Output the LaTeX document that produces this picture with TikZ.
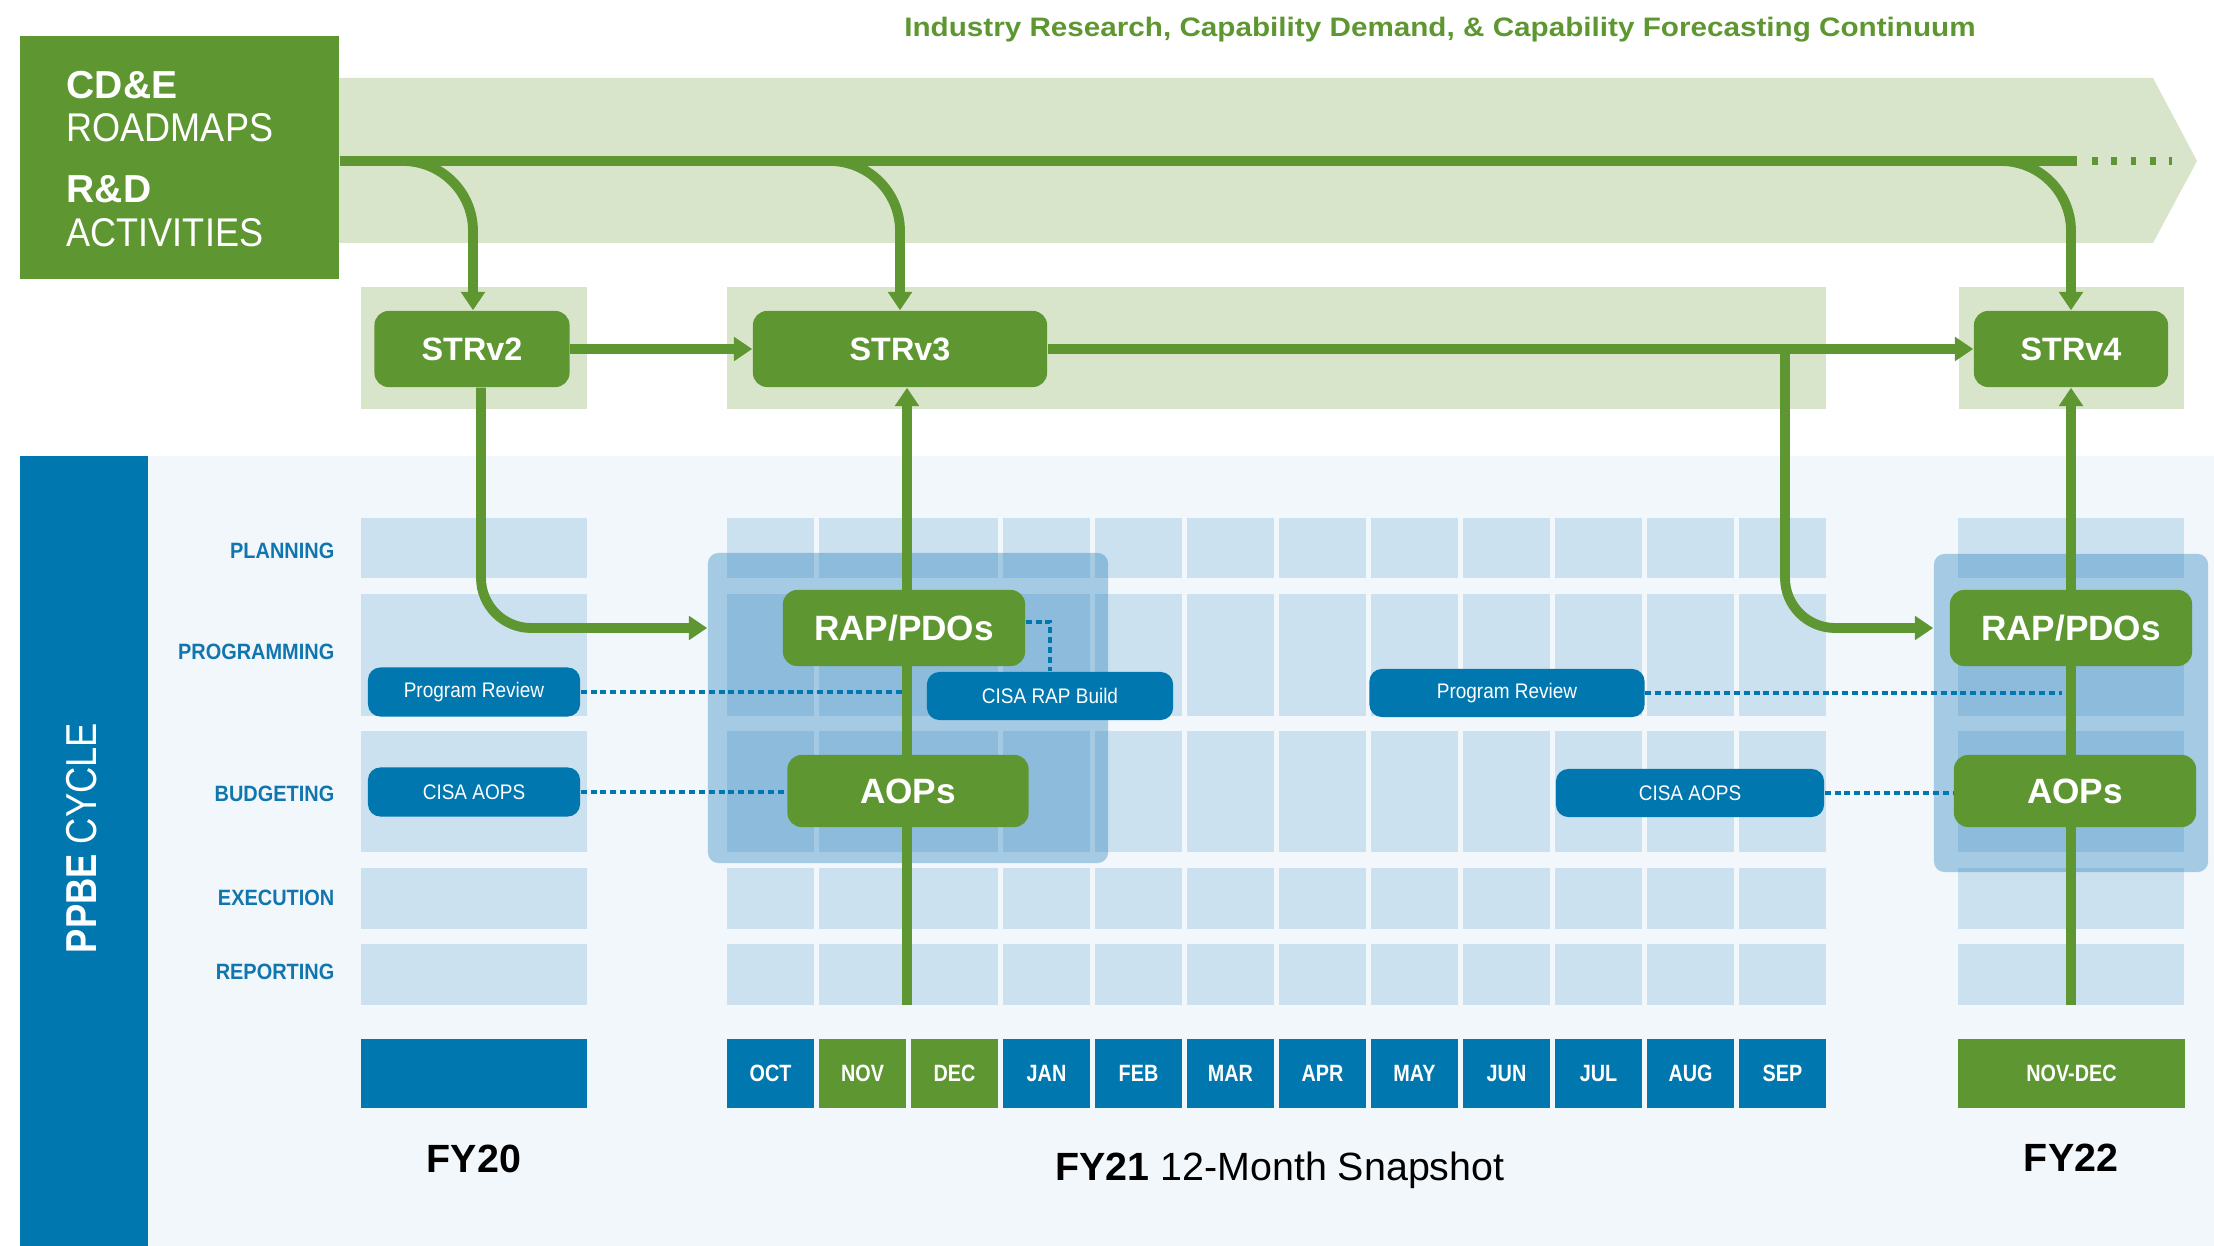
\documentclass[tikz,border=0pt]{standalone}
\usepackage{fontspec}
\setmainfont{Liberation Sans}
\newfontfamily\nine[FakeStretch=0.9]{Liberation Sans}
\newfontfamily\eight[FakeStretch=0.84]{Liberation Sans}
\newfontfamily\wide[FakeStretch=1.11]{Liberation Sans}
\usetikzlibrary{arrows.meta}
\definecolor{grn}{HTML}{5E9732}
\definecolor{lgrn}{HTML}{D9E5CB}
\definecolor{blu}{HTML}{0077AE}
\definecolor{bgb}{HTML}{F2F7FB}
\definecolor{cellc}{HTML}{CCE1EF}
\definecolor{ovc}{HTML}{056CB2}
\definecolor{lblc}{HTML}{1176AF}
\newcommand\fsz[1]{\fontsize{#1}{#1}\selectfont}
\tikzset{
  gline/.style={draw=grn, line width=2.8pt},
  garrow/.style={gline, -{Triangle[width=6.6pt,length=5.2pt]}},
  gbox/.style={fill=grn, rounded corners=4pt, text=white, inner sep=0pt, font=\fsz{10}\bfseries},
  bbox/.style={fill=blu, rounded corners=3.5pt, text=white, inner sep=0pt, font=\nine\fsz{6}},
  dotl/.style={draw=blu, line width=1.1pt, dash pattern=on 1.7pt off 1.1pt},
  cellbox/.style={fill=cellc},
  ovbox/.style={fill=ovc, fill opacity=0.32, rounded corners=3pt, inner sep=0pt},
  rowlbl/.style={anchor=east, text=lblc, inner sep=0pt, font=\nine\fsz{6.3}\bfseries},
  month/.style={text=white, inner sep=0pt, minimum width=0.87cm, minimum height=0.69cm, font=\eight\fsz{6.7}\bfseries},
}
\begin{document}
\begin{tikzpicture}[x=0.01cm,y=-0.01cm]
\useasboundingbox (0,0) rectangle (2214,1246);
% title
\node[anchor=base, text=grn, inner sep=0pt, font=\wide\fsz{7.6}\bfseries] (title) at (1440,37)
  {Industry Research, Capability Demand, \& Capability Forecasting Continuum};
% continuum band
\fill[lgrn] (339,78) -- (2153,78) -- (2197,161) -- (2153,243) -- (339,243) -- cycle;
% CD&E box
\node[fill=grn, inner sep=0pt, minimum width=3.19cm, minimum height=2.43cm] (cde) at (179.5,157.5) {};
\node[anchor=base west, text=white, inner sep=0pt, font=\fsz{11.1}\bfseries] (t1) at (66,99) {CD\&E};
\node[anchor=base west, text=white, inner sep=0pt, font=\nine\fsz{11.4}] (t2) at (66,142) {ROADMAPS};
\node[anchor=base west, text=white, inner sep=0pt, font=\fsz{11.1}\bfseries] (t3) at (66,203) {R\&D};
\node[anchor=base west, text=white, inner sep=0pt, font=\nine\fsz{11.4}] (t4) at (66,247) {ACTIVITIES};
% STR panels
\fill[lgrn] (361,287) rectangle (587,409);
\fill[lgrn] (727,287) rectangle (1826,409);
\fill[lgrn] (1959,287) rectangle (2184,409);
% PPBE area
\fill[bgb] (148,456) rectangle (2214,1246);
\fill[blu] (20,456) rectangle (148,1246);
\node[rotate=90, text=white, inner sep=0pt, font=\eight\fsz{12.3}] (ppbe) at (82,838) {\textbf{PPBE} CYCLE};
% row labels
\node[rowlbl] (lplan) at (335,551) {PLANNING};
\node[rowlbl] (lprog) at (335,652) {PROGRAMMING};
\node[rowlbl] (lbud) at (335,794) {BUDGETING};
\node[rowlbl] (lexe) at (335,898) {EXECUTION};
\node[rowlbl] (lrep) at (335,972) {REPORTING};
% cells
\foreach \ya/\yb in {518/578, 594/716, 731/852, 868/929, 944/1005}{
  \fill[cellbox] (361,\ya) rectangle (587,\yb);
  \fill[cellbox] (1958,\ya) rectangle (2184,\yb);
  \foreach \i in {0,...,11}{
    \fill[cellbox] ({727+92*\i},\ya) rectangle ({727+92*\i+87},\yb);
  }
}
% overlays
\node[ovbox, minimum width=4cm, minimum height=3.1cm] (ov1) at (908,708) {};
\node[ovbox, minimum width=2.74cm, minimum height=3.18cm] (ov2) at (2071,713) {};
% month boxes
\node[fill=blu, inner sep=0pt, minimum width=2.26cm, minimum height=0.69cm] (fy20box) at (474,1073.5) {};
\foreach \m/\c [count=\i from 0] in {OCT/blu,NOV/grn,DEC/grn,JAN/blu,FEB/blu,MAR/blu,APR/blu,MAY/blu,JUN/blu,JUL/blu,AUG/blu,SEP/blu}{
  \node[month, fill=\c] (m\i) at ({770.5+92*\i},1073.5) {\m};
}
\node[month, fill=grn, minimum width=2.27cm] (fy22box) at (2071.5,1073.5) {NOV-DEC};
% FY labels
\node[anchor=base, inner sep=0pt, font=\fsz{11.2}\bfseries] (fy20) at (474,1172) {FY20};
\node[anchor=base, inner sep=0pt, font=\fsz{11.2}\bfseries] (fy22) at (2071,1171) {FY22};
\node[anchor=base, inner sep=0pt, font=\fsz{11.2}] (fy21) at (1280,1180) {\textbf{FY21} 12-Month Snapshot};
% STR nodes
\node[gbox, font=\fsz{9.2}\bfseries, minimum width=1.95cm, minimum height=0.76cm] (s2) at (472,349) {STRv2};
\node[gbox, font=\fsz{9.2}\bfseries, minimum width=2.94cm, minimum height=0.76cm] (s3) at (900,349) {STRv3};
\node[gbox, font=\fsz{9.2}\bfseries, minimum width=1.94cm, minimum height=0.76cm] (s4) at (2071,349) {STRv4};
% coordinates
\coordinate (mainend) at (2077,161);
\coordinate (b1) at (390,161);
\coordinate (b2) at (820,161);
\coordinate (b3) at (1995,161);
\coordinate (split) at (1785,349);
\coordinate (v21) at (907,1005);
\coordinate (v22) at (2071,1005);
\coordinate (prend1) at (904,692);
\coordinate (prend2) at (2062,693);
% main line
\draw[gline] (cde.east |- mainend) -- (mainend);
\draw[draw=grn, line width=2.4pt, dash pattern=on 1.6pt off 3.9pt] (2092,161) -- (2172,161);
\draw[garrow, rounded corners=0.7cm] (b1) -- (473,161) -- (s2.north -| 473,0);
\draw[garrow, rounded corners=0.7cm] (b2) -- (900,161) -- (s3.north);
\draw[garrow, rounded corners=0.7cm] (b3) -- (2071,161) -- (s4.north);
\draw[garrow] (s2.east) -- (s3.west);
\draw[garrow] (s3.east) -- (s4.west);
% green connectors
\draw[garrow, rounded corners=0.5cm] ([xshift=0.09cm]s2.south) |- (ov1.west |- 0,628);
\draw[garrow, rounded corners=0.5cm] (split) |- (ov2.west |- 0,628);
\draw[garrow] (v21) -- (v21 |- s3.south);
\draw[garrow] (v22) -- (s4.south);
% green nodes
\node[gbox, minimum width=2.42cm, minimum height=0.76cm] (rap1) at (904,628) {RAP/PDOs};
\node[gbox, minimum width=2.41cm, minimum height=0.72cm] (aop1) at (908,791) {AOPs};
\node[gbox, minimum width=2.42cm, minimum height=0.76cm] (rap2) at (2071,628) {RAP/PDOs};
\node[gbox, minimum width=2.42cm, minimum height=0.72cm] (aop2) at (2075,791) {AOPs};
% blue nodes
\node[bbox, minimum width=2.12cm, minimum height=0.49cm] (pr1) at (474,692) {Program Review};
\node[bbox, minimum width=2.12cm, minimum height=0.49cm] (ca1) at (474,792) {CISA AOPS};
\node[bbox, minimum width=2.46cm, minimum height=0.48cm] (rapb) at (1050,696) {CISA RAP Build};
\node[bbox, minimum width=2.75cm, minimum height=0.48cm] (pr2) at (1507,693) {Program Review};
\node[bbox, minimum width=2.68cm, minimum height=0.48cm] (ca2) at (1690,793) {CISA AOPS};
% dotted
\draw[dotl] (pr1.east) -- (prend1);
\draw[dotl] (ca1.east) -- (aop1.west |- ca1.east);
\draw[dotl] (rap1.east |- 0,622) -| (rapb.north);
\draw[dotl] (pr2.east) -- (prend2);
\draw[dotl] (ca2.east) -- (aop2.west |- ca2.east);
\end{tikzpicture}
\end{document}
